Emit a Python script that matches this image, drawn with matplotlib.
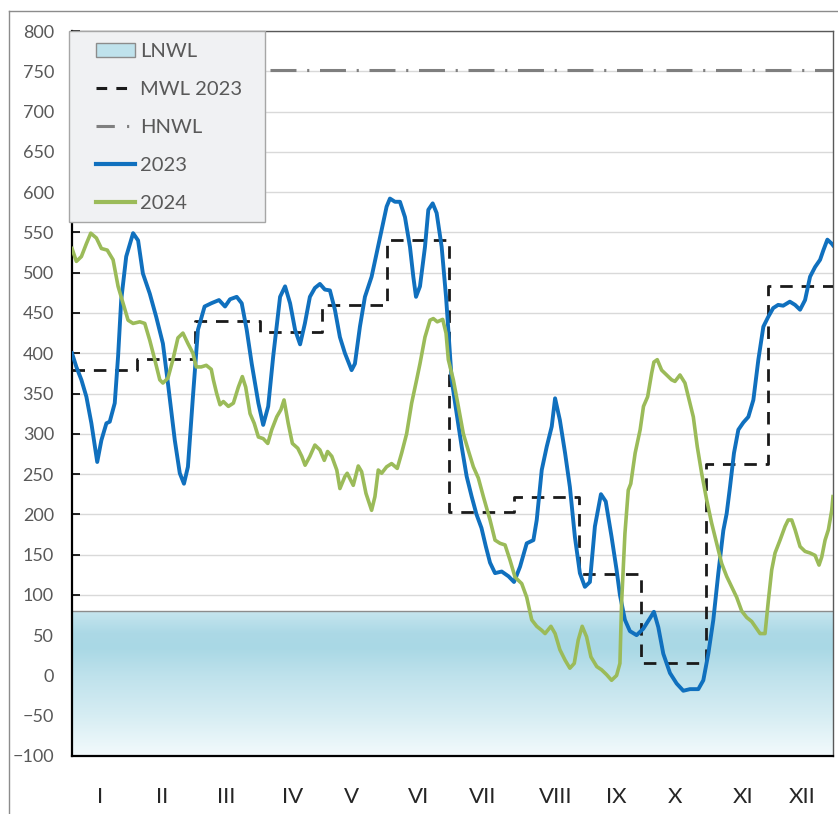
import numpy as np
import matplotlib
matplotlib.use("Agg")
import matplotlib.pyplot as plt
from matplotlib.colors import LinearSegmentedColormap
from matplotlib.lines import Line2D
from matplotlib.patches import Patch, Rectangle

plt.rcParams['font.family'] = ['Lato', 'DejaVu Sans']

# water level, 2023 (day of year, value)
day_2023 = [0, 2.1, 4.5, 6.9, 9.3, 12.1, 14.1, 16.5, 18.1, 20.5, 22.1, 23.6, 26, 29.3, 31.7, 34,
            37.3, 40.4, 43.6, 46, 49.3, 51.7, 53.7, 55.6, 58, 60.4, 63.6, 66.8, 70.5, 73.4, 75.8,
            79, 81.4, 83.8, 86.2, 89.4, 91.7, 94.1, 96.5, 99.8, 102.2, 104.6, 107, 109.4, 111.7,
            114.1, 116.5, 118.9, 121.3, 123.7, 126.1, 128.5, 130.9, 134.1, 135.7, 138.1, 140.5,
            143.7, 146.1, 148.5, 150.9, 152.5, 154.9, 157.3, 159.7, 162.1, 163.7, 165, 166.9,
            169.3, 170.9, 173, 174.9, 177.3, 179.4, 180.5, 182.1, 184.5, 186.9, 189.3, 191.7, 194,
            196.4, 198.5, 200.5, 202.9, 206.1, 209.4, 212, 214.9, 218.1, 221.3, 222.9, 225.3,
            227.7, 230.1, 231.7, 234, 236.5, 238.8, 241.2, 243.6, 246, 248.4, 250.8, 253.7, 256,
            258.8, 261.2, 262.8, 265.2, 267.6, 270.8, 274, 277.2, 279.1, 281.2, 283.6, 286.8, 290,
            293.2, 296.4, 300.4, 302.8, 305.2, 307.6, 310, 312.4, 314, 315.6, 317.5, 319.6, 322,
            324.4, 326.8, 329.2, 331.6, 333.9, 336.3, 338.7, 341.1, 344.3, 346.8, 349.2, 351.6,
            354, 356.4, 358.8, 360.4, 362.3, 364.4, 365]
wl_2023 = [400, 383, 367, 346, 313, 265, 292, 313, 315, 338, 396, 466, 520, 549, 540, 499,
           474, 445, 412, 363, 292, 251, 238, 259, 346, 429, 458, 462, 466, 458, 467,
           470, 462, 429, 387, 338, 311, 334, 396, 470, 483, 462, 429, 411, 437,
           470, 481, 486, 479, 478, 454, 420, 400, 379, 387, 433, 470,
           495, 524, 553, 582, 592, 588, 588, 569, 532, 495, 470, 483,
           532, 578, 586, 574, 532, 470, 429, 367, 325, 284, 247, 222, 200,
           183, 160, 140, 127, 129, 123, 116, 135, 164, 168, 193, 255,
           284, 309, 344, 317, 276, 234, 172, 127, 110, 116, 185, 225, 216,
           172, 131, 100, 69, 55, 50, 58, 71, 79, 60, 27, 3, -10,
           -19, -17, -17, -6, 27, 69, 127, 180, 201, 234, 276, 305, 314,
           321, 342, 392, 433, 445, 456, 460, 459, 464, 460, 454, 466,
           495, 507, 516, 528, 541, 536, 534]

# water level, 2024 (day of year, value)
day_2024 = [0, 2.1, 4.5, 6.9, 9, 11.7, 14.1, 16.9, 19.7, 22.1, 24.5, 26.9, 29.3, 32.5, 34.9,
            37.3, 39.7, 42.1, 43.6, 46, 48.4, 50.8, 53.2, 55.6, 58, 59.6, 62, 64.4, 66.8, 67.8,
            69.4, 71, 72.6, 75, 77.4, 79.8, 81.7, 83.3, 85.4, 87.4, 89.4, 91.7, 93.9, 95.8, 98.2,
            100.2, 101.7, 103.7, 105.7, 108.3, 110.2, 111.8, 114.1, 116.5, 118.9, 121, 122.6,
            124.6, 127, 128.5, 130.9, 132, 134.9, 137.3, 138.9, 141, 143.7, 145.3, 146.9, 148.5,
            150.9, 153.3, 156, 158.1, 160.5, 162.9, 165.3, 166.9, 169.3, 171.7, 173.3, 175.2,
            177.8, 179.4, 180.5, 182.9, 185.3, 187.7, 190, 192.5, 194.9, 197.3, 200.5, 202.9,
            205.3, 207.7, 210.1, 212.5, 215.7, 218.1, 220.5, 222.9, 225.3, 226.9, 229.7, 231.7,
            234, 236.5, 238.8, 240.9, 242.8, 244.7, 246.8, 248.9, 251.7, 254, 256.4, 258.8,
            261.2, 262.8, 263.6, 265.2, 266.8, 268, 270.1, 272.5, 274.1, 276.1, 278, 279.1,
            280.7, 282.8, 285.2, 287.6, 289.2, 291.6, 294, 296.4, 298, 299.9, 302, 304.4, 306.8,
            309.2, 311.6, 314, 316.4, 318.8, 321.2, 323.6, 326, 327.6, 330, 332.4, 334, 335.6,
            337.2, 339.6, 342, 343.5, 345.2, 346.8, 349.2, 351.6, 354, 356.4, 358.3, 359.6,
            361.2, 362.8, 364.4, 365]
wl_2024 = [530, 514, 520, 536, 549, 543, 530, 528, 516, 483, 462, 441, 437, 439, 437,
           416, 392, 367, 363, 369, 392, 419, 425, 412, 400, 383, 383, 385, 380, 367,
           350, 336, 340, 334, 338, 358, 371, 358, 325, 313, 296, 294, 288, 305, 321,
           330, 342, 313, 288, 282, 272, 261, 272, 286, 280, 267, 278,
           272, 255, 232, 247, 251, 236, 260, 253, 226, 205, 222, 255, 251,
           259, 263, 257, 276, 300, 338, 367, 387, 420, 441, 443, 439,
           442, 425, 392, 367, 334, 300, 280, 259, 245, 222, 193, 168,
           164, 162, 143, 122, 114, 97, 69, 61, 56, 52, 61, 52,
           32, 19, 9, 15, 44, 61, 48, 23, 11, 7, 1, -6,
           0, 15, 90, 176, 230, 238, 276, 305, 334, 346, 375, 389,
           392, 379, 373, 367, 365, 373, 363, 338, 321, 284, 251, 218, 189,
           164, 139, 123, 110, 97, 80, 72, 67, 61, 52, 52, 93, 131,
           152, 168, 185, 193, 193, 181, 160, 154, 152, 149, 137, 147,
           168, 181, 205, 222]

# monthly mean water level 2023
month_len = [31, 28, 31, 30, 31, 30, 31, 31, 30, 31, 30, 31]
mwl_2023 = [379, 393, 440, 426, 460, 541, 203, 222, 126, 15, 263, 484]
month_names = ['I', 'II', 'III', 'IV', 'V', 'VI', 'VII', 'VIII', 'IX', 'X', 'XI', 'XII']

lnwl = 80
hnwl = 752

month_start = np.concatenate([[0], np.cumsum(month_len)])
step_x = month_start
step_y = mwl_2023 + [mwl_2023[-1]]

fig = plt.figure(figsize=(8.38, 8.14), dpi=100)
W, H = 838, 814
ax = fig.add_axes([72 / W, 1 - 756 / H, 761 / W, 725 / H])

# LNWL band with gradient
cmap = LinearSegmentedColormap.from_list('lnwl', [
    (0.0, '#f3fafc'), (0.28, '#d6edf3'), (0.55, '#bfe2ec'),
    (0.75, '#a9d8e5'), (0.85, '#acd9e6'), (1.0, '#c6e5ee')])
grad = np.linspace(0, 1, 256).reshape(-1, 1)
ax.imshow(grad, cmap=cmap, origin='lower', aspect='auto',
          extent=[0, 365, -100, lnwl], zorder=1)
ax.axhline(lnwl, color='#8c8c8c', lw=1, zorder=2)

ax.axhline(hnwl, color='#7f7f7f', lw=2.2, dashes=(8.5, 3.5, 0.7, 3.5), zorder=3)
ax.plot(step_x, step_y, color='#1a1a1a', lw=2.0, dashes=(4.5, 3.2), drawstyle='steps-post', zorder=3)
ax.plot(day_2023, wl_2023, color='#1070be', lw=2.8, solid_joinstyle='round', zorder=4)
ax.plot(day_2024, wl_2024, color='#9bbb59', lw=2.6, solid_joinstyle='round', zorder=4)

ax.set_xlim(0, 365)
ax.set_ylim(-100, 800)
ax.set_yticks(np.arange(-100, 801, 50))
ax.yaxis.grid(True, color='#d9d9d9', lw=1)
ax.set_axisbelow(True)
ax.tick_params(axis='y', direction='in', length=6, width=1.2, color='black',
               labelsize=13, labelcolor='#595959', pad=13)

label_pos = [13.4, 43.2, 73.9, 106, 134, 166, 197, 232, 261, 289, 322, 350]
ax.set_xticks(label_pos)
ax.set_xticklabels(month_names)
ax.set_xticks(np.arange(13) * 30.15, minor=True)
ax.tick_params(axis='x', which='major', length=0, pad=22, labelsize=16, labelcolor='#262626')
ax.tick_params(axis='x', which='minor', direction='in', length=4, width=1.2, color='black')

for s in ['left', 'bottom']:
    ax.spines[s].set_color('black')
    ax.spines[s].set_linewidth(1.6)
for s in ['top', 'right']:
    ax.spines[s].set_color('#595959')
    ax.spines[s].set_linewidth(1)

# legend box
ax.add_patch(Rectangle((69 / W, 1 - 222 / H), 196 / W, 191 / H, transform=fig.transFigure,
                       facecolor='#f0f1f3', edgecolor='#a6a6a6', lw=1, clip_on=False, zorder=6))
handles = [
    Patch(facecolor='#bfe2ec', edgecolor='#8c8c8c', lw=1),
    Line2D([], [], color='#1a1a1a', lw=2.2, dashes=(3.5, 3.0)),
    Line2D([], [], color='#7f7f7f', lw=2.2, dashes=(6, 4, 0.7, 3)),
    Line2D([], [], color='#1070be', lw=3),
    Line2D([], [], color='#9bbb59', lw=3),
]
leg = ax.legend(handles, ['LNWL', 'MWL 2023', 'HNWL', '2023', '2024'],
                loc='upper left', bbox_to_anchor=(96 / W, 1 - 43 / H), bbox_transform=fig.transFigure,
                frameon=False, borderpad=0, borderaxespad=0, fontsize=14.5, labelcolor='#595959',
                handlelength=1.95, handletextpad=0.25, labelspacing=1.04)
leg.set_zorder(7)

# chart area border
fig.add_artist(Line2D([8.5 / W, 8.5 / W], [0, 1 - 11 / H], color='#8c8c8c', lw=1))
fig.add_artist(Line2D([8.5 / W, 1], [1 - 11 / H, 1 - 11 / H], color='#8c8c8c', lw=1))

fig.savefig('out.png', dpi=100)
